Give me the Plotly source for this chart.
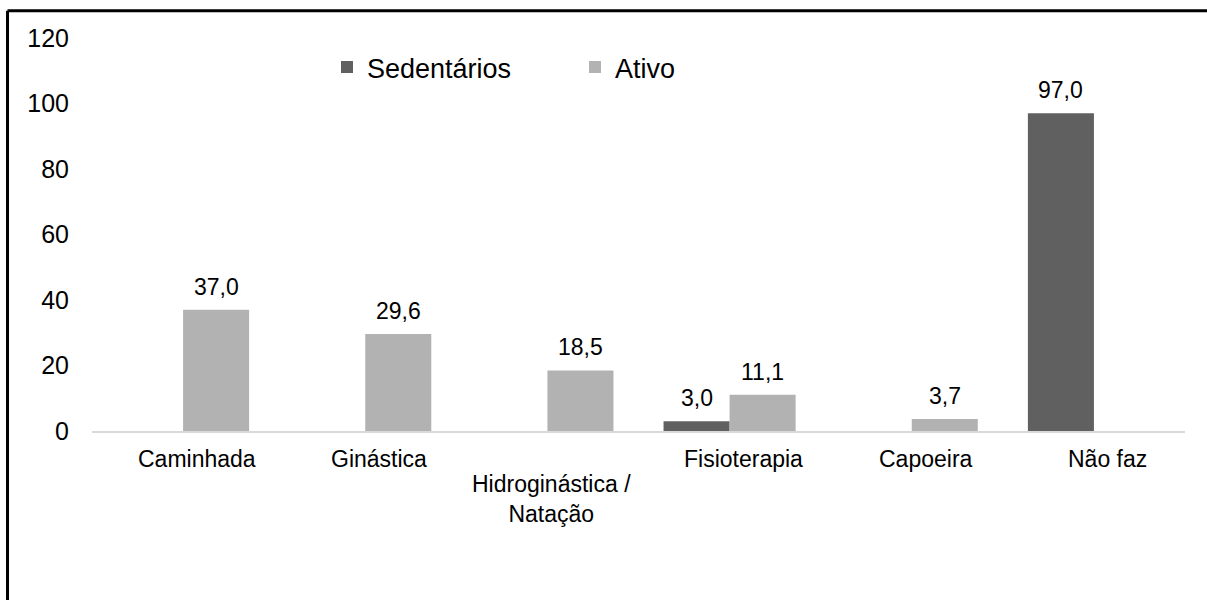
import plotly.graph_objects as go

categories = ["Caminhada", "Ginástica", "Hidroginástica / Natação", "Fisioterapia", "Capoeira", "Não faz"]
tick_labels = ["Caminhada", "Ginástica", "Hidroginástica /<br>Natação", "Fisioterapia", "Capoeira", "Não faz"]
label_row = [0, 0, 1, 0, 0, 0]   # Hidroginástica label is staggered lower, as in the original
sedentarios = [0, 0, 0, 3.0, 0, 97.0]
ativo = [37.0, 29.6, 18.5, 11.1, 3.7, 0]
y_ticks = [0, 20, 40, 60, 80, 100, 120]

series = [("Sedentários", sedentarios, "#606060", -33), ("Ativo", ativo, "#b2b2b2", 33)]

def fmt(v):
    return f"{v:.1f}".replace(".", ",")

FONT = "Liberation Sans, Arial, sans-serif"

fig = go.Figure()
for name, vals, color, dx in series:
    fig.add_trace(go.Bar(
        name=name, x=categories, y=vals,
        marker=dict(color=color, line=dict(width=0)),
    ))
    for c, v in zip(categories, vals):
        if v:
            fig.add_annotation(
                x=c, y=v, xref="x", yref="y", text=fmt(v), showarrow=False,
                xshift=dx, yshift=8, yanchor="bottom", xanchor="center",
                font=dict(size=23, color="#000000", family=FONT),
            )

# category labels
for c, t, row in zip(categories, tick_labels, label_row):
    fig.add_annotation(
        x=c, y=0, xref="x", yref="paper", text=t, showarrow=False,
        xanchor="center", yanchor="top",
        xshift=4 if row else 14, yshift=-38 if row else -13,
        font=dict(size=23, color="#000000", family=FONT),
    )

fig.update_layout(
    width=1207, height=600,
    margin=dict(l=92, r=22, t=38, b=169),
    paper_bgcolor="white", plot_bgcolor="white",
    barmode="group", bargap=0.275, bargroupgap=0,
    font=dict(family=FONT, color="#000000"),
    showlegend=True,
    legend=dict(orientation="h", x=0.215, y=0.925, xanchor="left", yanchor="middle",
                font=dict(size=27, color="#000000"), bgcolor="rgba(0,0,0,0)",
                entrywidth=203, itemwidth=30, traceorder="normal"),
)
fig.update_xaxes(
    showline=True, linecolor="#d9d9d9", linewidth=2,
    showgrid=False, ticks="", showticklabels=False,
)
fig.update_yaxes(
    range=[0, 120], tickvals=y_ticks, showgrid=False, zeroline=False,
    showline=False, ticks="", tickfont=dict(size=25, color="#000000"),
    ticklabelstandoff=22,
)

# outer frame (left and top edges visible)
fig.add_shape(type="line", xref="paper", yref="paper",
              x0=-0.0773, x1=1.1, y0=1.0693, y1=1.0693,
              line=dict(color="black", width=3))
fig.add_shape(type="line", xref="paper", yref="paper",
              x0=-0.0773, x1=-0.0773, y0=1.0693, y1=-0.5,
              line=dict(color="black", width=3))

fig.write_html("out.html", config={"displayModeBar": False},
               post_script="document.body.style.margin='0px';")
